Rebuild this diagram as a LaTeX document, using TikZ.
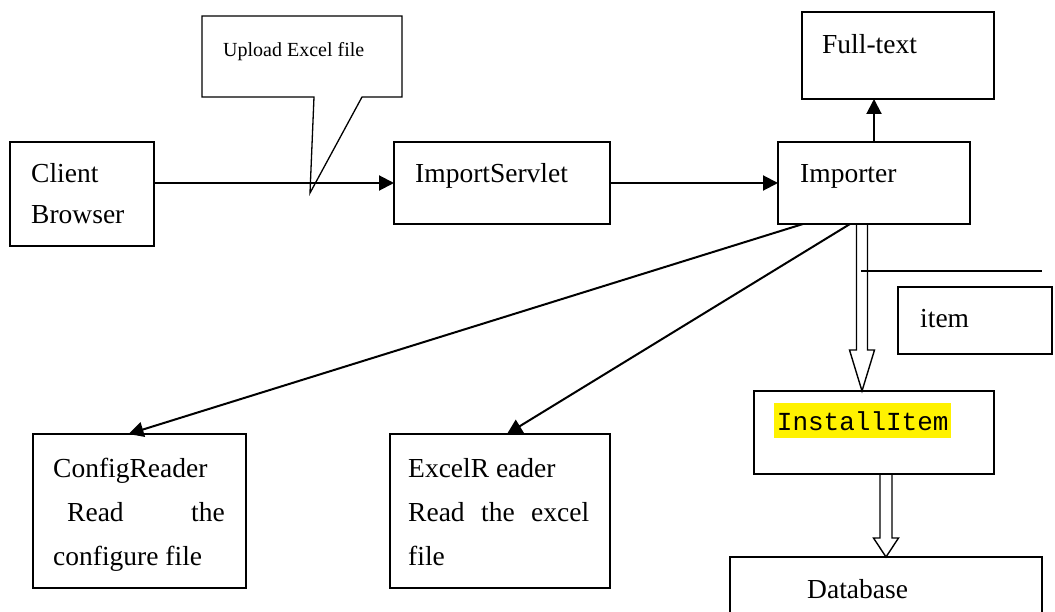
\documentclass[tikz,border=0pt]{standalone}
\usepackage{fontspec}
\setmainfont{Liberation Serif}
\setmonofont{Liberation Mono}
\usetikzlibrary{arrows.meta}
\usetikzlibrary{calc}

% hollow block arrow pointing straight down: top, tip, shaft half width, head length
\newcommand{\blockarrow}[4]{%
  \draw[hollow] let \p1=#1, \p2=#2 in
    (\x1-#3,\y1) -- (\x1-#3,\y2+#4) -- (\x1-12.5pt,\y2+#4) -- (\x1,\y2)
    -- (\x1+12.5pt,\y2+#4) -- (\x1+#3,\y2+#4) -- (\x1+#3,\y1) -- cycle;}

\begin{document}
\begin{tikzpicture}[x=1pt,y=-1pt]
\tikzset{>={Triangle[width=15pt,length=15pt]}}
\tikzstyle{box}=[draw, line width=1.4pt, inner sep=0pt, outer sep=0pt, anchor=north west]
\tikzstyle{txt}=[inner sep=0pt, anchor=base west, font=\fontsize{27.5}{41}\selectfont]
\tikzstyle{link}=[->, line width=2pt]
\tikzstyle{hollow}=[line width=1.4pt, line join=miter]

\useasboundingbox (0,0) rectangle (1055,612);

% boxes
\node[box, minimum width=144pt, minimum height=104pt] (cb) at (10,142) {};
\node[box, minimum width=216pt, minimum height=82pt] (is) at (394,142) {};
\node[box, minimum width=192pt, minimum height=82pt] (imp) at (778,142) {};
\node[box, minimum width=192pt, minimum height=87pt] (ft) at (802,12) {};
\node[box, minimum width=213pt, minimum height=154pt] (cr) at (33,434) {};
\node[box, minimum width=220pt, minimum height=154pt] (er) at (390,434) {};
\node[box, minimum width=154pt, minimum height=67pt] (it) at (898,287) {};
\node[box, minimum width=240pt, minimum height=83pt] (ii) at (754,391) {};
\node[box, minimum width=312pt, minimum height=70pt] (db) at (730,557) {};

% texts
\node[txt] (cbt1) at (31,183) {Client};
\node[txt] (cbt2) at (31,224) {Browser};
\node[txt] (ist) at (415,183) {ImportServlet};
\node[txt] (impt) at (800,183) {Importer};
\node[txt] (ftt) at (822,54) {Full-text};
\node[txt] (crt1) at (53,477) {ConfigReader};
\node[txt] (crt2) at (67,521) {Read};
\node[txt, anchor=base east] (crt3) at (225,521) {the};
\node[txt] (crt4) at (53,565) {configure file};
\node[txt] (ert1) at (408,477) {ExcelR eader};
\node[txt, text width=181pt] (ert2) at (408,521) {Read\hfill the\hfill excel};
\node[txt] (ert3) at (408,565) {file};
\node[txt] (itt) at (920,328) {item};
\node[txt] (dbt) at (807,598) {Database};
\node[anchor=base west, fill=yellow, inner xsep=2.7pt, inner ysep=0pt,
      text height=27pt, text depth=8pt, font=\ttfamily\fontsize{26}{30}\selectfont]
      (iit) at (774,430) {InstallItem};

% callout
\draw[line width=1.3pt, line join=miter] (202,16) -- (402,16) -- (402,97) -- (362,97)
  -- (310,193) -- (314,97) -- (202,97) -- cycle;
\node[inner sep=0pt, anchor=base west, font=\fontsize{20}{24}\selectfont] (up) at (223,57) {Upload Excel file};

% connectors
\draw[link] (cb.east |- is.west) -- (is.west);
\draw[link] (is) -- (imp);
\draw[link] (imp.north) -- (imp.north |- ft.south);
\draw[link] ([xshift=25pt]imp.south west) -- ([xshift=-11pt]cr.north);
\draw[link] ([xshift=72pt]imp.south west) -- ([xshift=7pt]er.north);

\blockarrow{([xshift=-12pt]imp.south)}{([xshift=-12pt]ii.north)}{5.5pt}{41pt}
\blockarrow{([xshift=12pt]ii.south)}{(db.north)}{6pt}{19pt}

\draw[line width=1.4pt] (861,271) -- (1042,271);
\end{tikzpicture}
\end{document}
